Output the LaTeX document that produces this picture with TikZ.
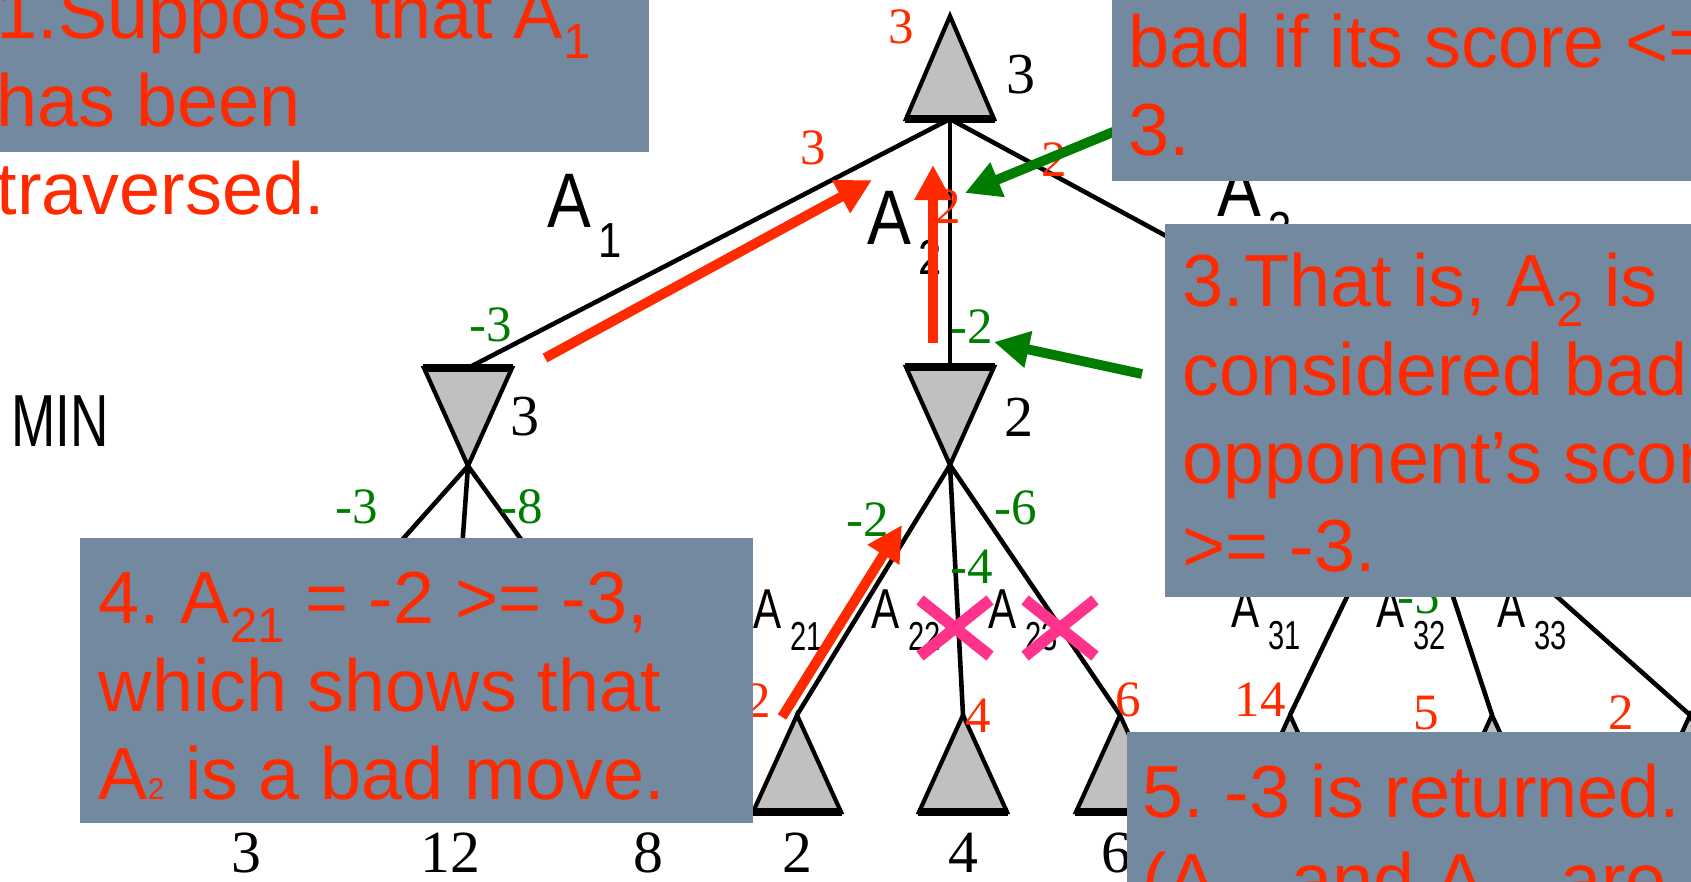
\documentclass[tikz,border=0pt]{standalone}
\usepackage{fontspec}
\setmainfont{Liberation Serif}
\setsansfont{Liberation Sans}
\usetikzlibrary{arrows.meta}
\frenchspacing

\definecolor{notered}{RGB}{255,42,0}
\definecolor{valgreen}{RGB}{0,125,0}
\definecolor{boxgray}{RGB}{114,137,160}
\definecolor{xpink}{RGB}{255,50,140}
\definecolor{trigray}{RGB}{192,192,192}

\newcommand{\lowsub}[1]{\raisebox{-5.5pt}{\fontsize{14}{14}\selectfont #1}}
\newcommand{\tinysub}[1]{{\fontsize{8.5}{8.5}\selectfont #1}}
\newcommand{\treeA}[1]{\scalebox{0.85}[1]{A}\hspace{2pt}\raisebox{-8.5pt}{\scalebox{0.85}[1]{\fontsize{14}{14}\selectfont #1}}}
\newcommand{\leafA}[1]{\scalebox{0.75}[1]{A}\hspace{2.5pt}\raisebox{-6.3pt}{\scalebox{0.72}[1]{\fontsize{11.5}{11.5}\selectfont #1}}}

\tikzset{
    branch/.style = {line width=1.3pt},
    tri/.style = {draw, fill=trigray, line width=1.2pt, line join=miter},
    thickbase/.style = {line width=2.4pt},
    maxnode/.pic = {
        \filldraw[tri] (0,0) -- (44,#1) -- (-44,#1) -- cycle;
        \draw[thickbase] (-45,#1) -- (45,#1);
        \coordinate (-top) at (0,0);
        \coordinate (-bot) at (0,#1);
    },
    minnode/.pic = {
        \filldraw[tri] (-44,0) -- (44,0) -- (0,98) -- cycle;
        \draw[thickbase] (-45,0) -- (45,0);
        \coordinate (-top) at (0,0);
        \coordinate (-bot) at (0,98);
    },
    notebox/.style = {fill=boxgray},
    notetext/.style = {font=\sffamily\fontsize{21}{25}\selectfont, text=notered,
        inner sep=0pt, anchor=base west},
    redval/.style = {font=\fontsize{14.5}{14.5}\selectfont, text=notered, inner sep=0pt},
    greenval/.style = {font=\fontsize{14.5}{14.5}\selectfont, text=valgreen, inner sep=0pt},
    sideval/.style = {font=\fontsize{16.5}{16.5}\selectfont, inner sep=0pt},
    leafval/.style = {font=\fontsize{17}{17}\selectfont, inner sep=0pt},
    movelab/.style = {font=\sffamily\fontsize{22}{22}\selectfont, inner sep=0pt, anchor=base west},
    sublab/.style = {font=\sffamily\fontsize{16}{16}\selectfont, inner sep=0pt, anchor=base west},
    redarrow/.style = {draw=notered, line width=2.8pt, -{Triangle[length=10pt, width=10pt]}},
    greenarrow/.style = {draw=valgreen, line width=2.8pt, -{Triangle[length=10pt, width=10pt]}},
    pruned/.style = {draw=xpink, line width=3.3pt}
}

\begin{document}
\begin{tikzpicture}[x=0.01cm, y=-0.01cm]
\useasboundingbox (0,0) rectangle (1691,882);

% game tree
\pic (root) at (950,16) {maxnode=103};
\pic (a1) at (468,368) {minnode};
\pic (a2) at (950,367) {minnode};
\pic (a3) at (1410,368) {minnode};
\foreach \n/\x in {11/246, 12/450, 13/648, 21/797, 22/963, 23/1120, 31/1290, 32/1492, 33/1690}
    \pic (l\n) at (\x,715) {maxnode=97};

\draw [branch] (root-bot) -- (a1-top);
\draw [branch] (root-bot) -- (a2-top);
\draw [branch] (root-bot) -- (a3-top);
\foreach \p in {1,2,3} {
    \foreach \c in {1,2,3}
        \draw [branch] (a\p-bot) -- (l\p\c-top);
}

% move labels
\node [font=\sffamily\fontsize{21}{21}\selectfont, inner sep=0pt] (minlab) at (60,421) {\scalebox{0.72}[1]{MIN}};
\node [movelab] (mA1) at (547,228) {\treeA{1}};
\node [movelab] (mA2) at (867,245) {\treeA{2}};
\node [movelab] (mA3) at (1217,217) {\treeA{3}};
\node [sublab] (mA21) at (753,628) {\leafA{21}};
\node [sublab] (mA22) at (871,628) {\leafA{22}};
\node [sublab] (mA23) at (988,628) {\leafA{23}};
\node [sublab] (mA31) at (1231,627) {\leafA{31}};
\node [sublab] (mA32) at (1376,627) {\leafA{32}};
\node [sublab] (mA33) at (1497,627) {\leafA{33}};

% values
\node [sideval] (vroot) at (1021,75) {3};
\node [sideval] (va1) at (525,417) {3};
\node [sideval] (va2) at (1019,417) {2};
\foreach \n/\x/\v in {11/246/3, 12/450/12, 13/648/8, 21/797/2, 22/963/4, 23/1116/6}
    \node [leafval] (b\n) at (\x,853) {\v};

\node [redval] (rroot) at (901,27) {3};
\node [redval] (ra1) at (813,148) {3};
\node [redval] (ra3) at (1054,160) {2};
\node [redval] (ra2) at (948,207) {2};
\node [redval] (r21) at (758,701) {2};
\node [redval] (r22) at (978,716) {4};
\node [redval] (r23) at (1128,700) {6};
\node [redval] (r31) at (1260,700) {14};
\node [redval] (r32) at (1426,713) {5};
\node [redval] (r33) at (1621,713) {2};

\node [greenval] (g1) at (491,325) {-3};
\node [greenval] (g2) at (972,327) {-2};
\node [greenval] (g11) at (357,507) {-3};
\node [greenval] (g13) at (522,507) {-8};
\node [greenval] (g21) at (868,520) {-2};
\node [greenval] (g23) at (1016,508) {-6};
\node [greenval] (g22) at (972,567) {-4};
\node [greenval] (g32) at (1419,597) {-5};

% pointers
\coordinate (up1s) at (545,358);
\coordinate (up1e) at (872,180);
\coordinate (up2s) at (933,343);
\coordinate (up2e) at (933,165);
\coordinate (up3s) at (782,717);
\coordinate (up3e) at (902,525);
\coordinate (gp1s) at (1118,130);
\coordinate (gp1e) at (965,193);
\coordinate (gp2s) at (1142,374);
\coordinate (gp2e) at (994,342);
\draw [redarrow] (up1s) -- (up1e);
\draw [redarrow] (up2s) -- (up2e);
\draw [redarrow] (up3s) -- (up3e);
\draw [greenarrow] (gp1s) -- (gp1e);
\draw [greenarrow] (gp2s) -- (gp2e);

% cut branches
\coordinate (x22) at (955,628);
\coordinate (x23) at (1060,628);
\draw [pruned] (x22) ++(-35,-28) -- ++(70,56) (x22) ++(-35,28) -- ++(70,-56);
\draw [pruned] (x23) ++(-35,-28) -- ++(70,56) (x23) ++(-35,28) -- ++(70,-56);

% notes
\fill [notebox] (0,0) rectangle (649,152);
\fill [notebox] (1112,0) rectangle (1691,181);
\fill [notebox] (1165,224) rectangle (1691,597);
\fill [notebox] (80,538) rectangle (753,823);
\fill [notebox] (1127,732) rectangle (1691,882);

\node [notetext] (n1a) at (-4,39) {1.Suppose that A\lowsub{1}};
\node [notetext] (n1b) at (-4,127) {has been};
\node [notetext] (n1c) at (-4,215) {traversed.};

\node [notetext] (n2a) at (1128,68) {bad if its score <=};
\node [notetext] (n2b) at (1128,156) {3.};

\node [notetext] (n3a) at (1182,307) {3.That is, A\lowsub{2} is};
\node [notetext] (n3b) at (1182,395) {considered bad};
\node [notetext] (n3c) at (1182,483) {opponent’s score};
\node [notetext] (n3d) at (1182,571) {>= -3.};

\node [notetext] (n4a) at (98,623) {4. A\lowsub{21} = -2 >= -3,};
\node [notetext] (n4b) at (98,711) {which shows that};
\node [notetext] (n4c) at (98,799) {A\tinysub{2} is a bad move.};

\node [notetext] (n5a) at (1142,817) {5. -3 is returned.};
\node [notetext] (n5b) at (1142,905) {(A\lowsub{22} and A\lowsub{23} are};

\end{tikzpicture}
\end{document}
